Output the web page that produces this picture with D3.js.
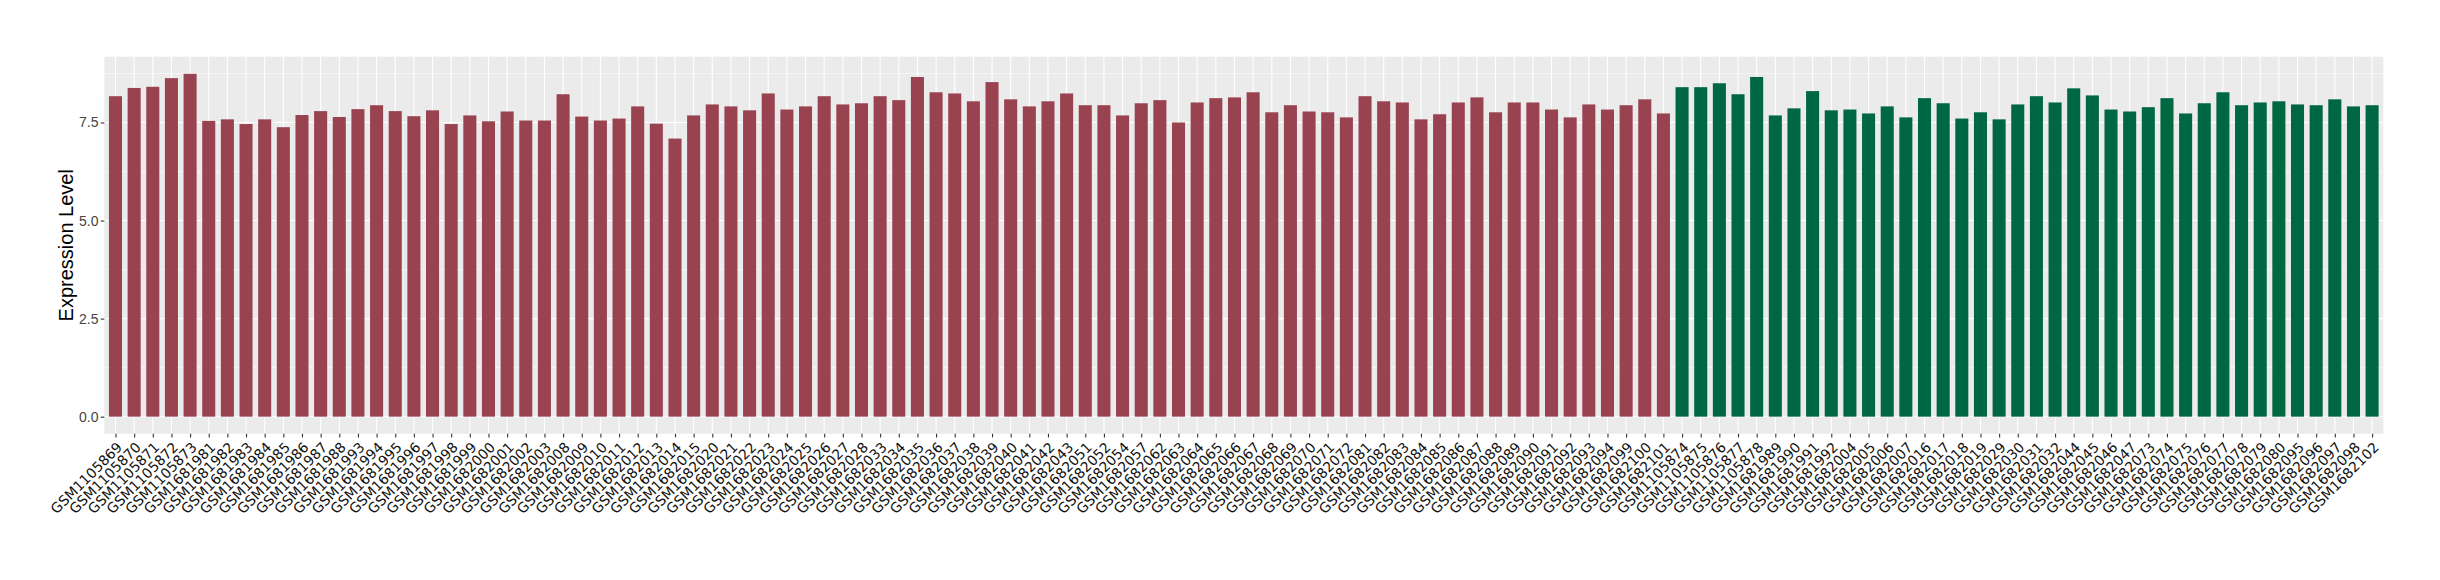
<!DOCTYPE html>
<html>
<head>
<meta charset="utf-8">
<script src="https://cdn.jsdelivr.net/npm/d3@7"></script>
<style>
  body { margin: 0; background: #fff; }
  svg { display: block; }
</style>
</head>
<body>
<svg class="chart"></svg>
<script>
var Width = 2440,
    Height = 580;

// samples of the first group (red) and their expression level
var redSamples = [
  "GSM1105869","GSM1105870","GSM1105871","GSM1105872","GSM1105873",
  "GSM1681981","GSM1681982","GSM1681983","GSM1681984","GSM1681985","GSM1681986","GSM1681987","GSM1681988",
  "GSM1681993","GSM1681994","GSM1681995","GSM1681996","GSM1681997","GSM1681998","GSM1681999",
  "GSM1682000","GSM1682001","GSM1682002","GSM1682003",
  "GSM1682008","GSM1682009","GSM1682010","GSM1682011","GSM1682012","GSM1682013","GSM1682014","GSM1682015",
  "GSM1682020","GSM1682021","GSM1682022","GSM1682023","GSM1682024","GSM1682025","GSM1682026","GSM1682027","GSM1682028",
  "GSM1682033","GSM1682034","GSM1682035","GSM1682036","GSM1682037","GSM1682038","GSM1682039","GSM1682040",
  "GSM1682041","GSM1682042","GSM1682043",
  "GSM1682051","GSM1682052","GSM1682054","GSM1682057",
  "GSM1682062","GSM1682063","GSM1682064","GSM1682065","GSM1682066","GSM1682067","GSM1682068","GSM1682069",
  "GSM1682070","GSM1682071","GSM1682072",
  "GSM1682081","GSM1682082","GSM1682083","GSM1682084","GSM1682085","GSM1682086","GSM1682087","GSM1682088",
  "GSM1682089","GSM1682090","GSM1682091","GSM1682092","GSM1682093","GSM1682094",
  "GSM1682099","GSM1682100","GSM1682101"
];
var redValues = [
  8.17, 8.38, 8.41, 8.63, 8.74,
  7.54, 7.58, 7.46, 7.58, 7.38, 7.69, 7.79, 7.64,
  7.84, 7.94, 7.79, 7.66, 7.81, 7.46, 7.68,
  7.53, 7.78, 7.55, 7.55,
  8.22, 7.65, 7.55, 7.60, 7.91, 7.47, 7.09, 7.68,
  7.96, 7.91, 7.81, 8.24, 7.83, 7.91, 8.17, 7.96, 7.99,
  8.17, 8.07, 8.66, 8.27, 8.24, 8.04, 8.53, 8.09,
  7.91, 8.04, 8.24,
  7.94, 7.94, 7.68, 7.99,
  8.07, 7.50, 8.01, 8.12, 8.14, 8.27, 7.76, 7.94,
  7.78, 7.76, 7.63,
  8.17, 8.04, 8.01, 7.58, 7.71, 8.01, 8.14, 7.76,
  8.01, 8.01, 7.83, 7.63, 7.96, 7.83,
  7.94, 8.09, 7.73
];

// samples of the second group (green)
var greenSamples = [
  "GSM1105874","GSM1105875","GSM1105876","GSM1105877","GSM1105878",
  "GSM1681989","GSM1681990","GSM1681991","GSM1681992",
  "GSM1682004","GSM1682005","GSM1682006","GSM1682007",
  "GSM1682016","GSM1682017","GSM1682018","GSM1682019",
  "GSM1682029","GSM1682030","GSM1682031","GSM1682032",
  "GSM1682044","GSM1682045","GSM1682046","GSM1682047",
  "GSM1682073","GSM1682074","GSM1682075","GSM1682076","GSM1682077","GSM1682078","GSM1682079","GSM1682080",
  "GSM1682095","GSM1682096","GSM1682097","GSM1682098",
  "GSM1682102"
];
var greenValues = [
  8.40, 8.40, 8.50, 8.22, 8.66,
  7.68, 7.86, 8.30, 7.81,
  7.83, 7.73, 7.91, 7.63,
  8.12, 7.99, 7.60, 7.76,
  7.58, 7.96, 8.17, 8.01,
  8.37, 8.19, 7.83, 7.78,
  7.89, 8.12, 7.73, 7.99, 8.27, 7.94, 8.01, 8.04,
  7.96, 7.94, 8.09, 7.91,
  7.94
];

var yTicks = [0, 2.5, 5, 7.5],
    yMinorTicks = [1.25, 3.75, 6.25, 8.75];

var groupNames = ["red", "green"],
    groupColors = ["#9A4350", "#006743"];

// build one table from the arrays
var data = redSamples.map(function(s, i) { return {sample: s, value: redValues[i], group: "red"}; })
  .concat(greenSamples.map(function(s, i) { return {sample: s, value: greenValues[i], group: "green"}; }));

var panel = {left: 104.3, right: 2383.3, top: 56.7, bottom: 433.8};

var chart = d3.select(".chart")
    .attr("width", Width)
    .attr("height", Height);

// x scale, one slot per sample (ggplot style expansion of 0.6)
var x = d3.scalePoint()
    .domain(data.map(function(d) { return d.sample; }))
    .range([panel.left, panel.right])
    .padding(0.6);
var barWidth = x.step() * 0.7;

var maxVal = d3.max(data, function(d) { return d.value; });
var y = d3.scaleLinear()
    .domain([-0.05 * maxVal, 1.05 * maxVal])
    .range([panel.bottom, panel.top]);

var color = d3.scaleOrdinal().domain(groupNames).range(groupColors);

// panel background
chart.append("rect")
    .attr("x", panel.left)
    .attr("y", panel.top)
    .attr("width", panel.right - panel.left)
    .attr("height", panel.bottom - panel.top)
    .attr("fill", "#EBEBEB");

// grid
var grid = chart.append("g").attr("class", "grid");
grid.selectAll(".minor")
    .data(yMinorTicks)
    .enter().append("line")
    .attr("x1", panel.left).attr("x2", panel.right)
    .attr("y1", function(d) { return y(d); })
    .attr("y2", function(d) { return y(d); })
    .attr("stroke", "#fff")
    .attr("stroke-width", 0.55);
grid.selectAll(".major")
    .data(yTicks)
    .enter().append("line")
    .attr("x1", panel.left).attr("x2", panel.right)
    .attr("y1", function(d) { return y(d); })
    .attr("y2", function(d) { return y(d); })
    .attr("stroke", "#fff")
    .attr("stroke-width", 1.1);
grid.selectAll(".vert")
    .data(x.domain())
    .enter().append("line")
    .attr("x1", function(d) { return x(d); })
    .attr("x2", function(d) { return x(d); })
    .attr("y1", panel.top).attr("y2", panel.bottom)
    .attr("stroke", "#fff")
    .attr("stroke-width", 1.1);

// bars
chart.append("g").selectAll("rect")
    .data(data)
    .enter().append("rect")
    .attr("x", function(d) { return x(d.sample) - barWidth / 2; })
    .attr("y", function(d) { return y(d.value); })
    .attr("width", barWidth)
    .attr("height", function(d) { return y(0) - y(d.value); })
    .attr("fill", function(d) { return color(d.group); });

// y axis
var yAxis = d3.axisLeft(y)
    .tickValues(yTicks)
    .tickFormat(d3.format(".1f"))
    .tickSize(3.6)
    .tickPadding(2.2);
var gy = chart.append("g")
    .attr("transform", "translate(" + panel.left + ",0)")
    .call(yAxis);
gy.select(".domain").remove();
gy.selectAll("line").attr("stroke", "#333").attr("stroke-width", 1.1);
gy.selectAll("text")
    .attr("fill", "#444")
    .style("font-family", "'Liberation Sans', Arial, sans-serif")
    .style("font-size", "14px");

// x axis, labels turned 45 degrees
var xAxis = d3.axisBottom(x).tickSize(3.6).tickPadding(0);
var gx = chart.append("g")
    .attr("transform", "translate(0," + panel.bottom + ")")
    .call(xAxis);
gx.select(".domain").remove();
gx.selectAll("line").attr("stroke", "#333").attr("stroke-width", 1.1);
gx.selectAll("text")
    .attr("y", 0)
    .attr("dy", "0.72em")
    .attr("transform", "translate(0,7.2) rotate(-45)")
    .attr("text-anchor", "end")
    .attr("fill", "#111")
    .style("font-family", "'DejaVu Sans', sans-serif")
    .style("font-size", "14px");

// y axis title
chart.append("text")
    .attr("transform", "translate(66," + ((panel.top + panel.bottom) / 2) + ") rotate(-90)")
    .attr("text-anchor", "middle")
    .attr("dy", "0.35em")
    .style("font-family", "'Liberation Sans', Arial, sans-serif")
    .style("font-size", "20px")
    .attr("fill", "#000")
    .text("Expression Level");
</script>
</body>
</html>
